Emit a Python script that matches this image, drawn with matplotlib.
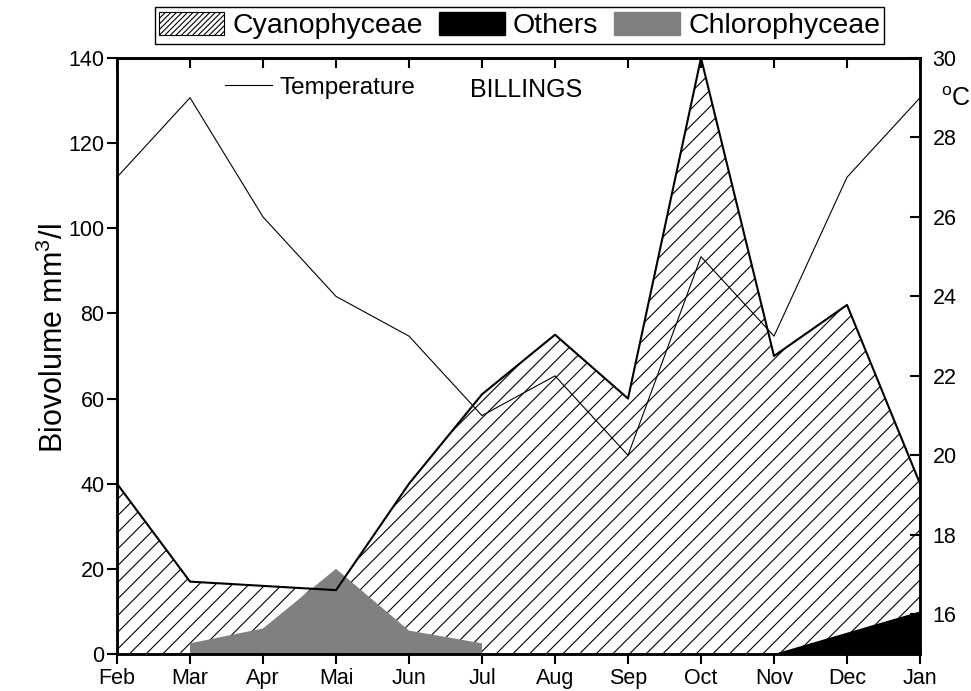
import numpy as np
import matplotlib
matplotlib.use("Agg")
import matplotlib.pyplot as plt
from matplotlib.patches import Patch

plt.rcParams['font.family'] = ['Liberation Sans', 'DejaVu Sans']
plt.rcParams['mathtext.fontset'] = 'custom'
plt.rcParams['mathtext.rm'] = 'Liberation Sans'
plt.rcParams['mathtext.it'] = 'Liberation Sans'
plt.rcParams['hatch.linewidth'] = 0.8

# Monthly data, BILLINGS reservoir
months = ["Feb", "Mar", "Apr", "Mai", "Jun", "Jul", "Aug", "Sep", "Oct", "Nov", "Dec", "Jan"]
cyanophyceae = [40, 17, 16, 15, 40, 61, 75, 60, 140, 70, 82, 40]
others = [np.nan] * 9 + [0, 5, 10]
chlorophyceae = [np.nan, 2.5, 6, 20, 5.5, 2.5] + [np.nan] * 6
temperature = [27, 29, 26, 24, 23, 21, 22, 20, 25, 23, 27, 29]

x = np.arange(len(months))
others_arr = np.array(others, dtype=float)
chloro_arr = np.array(chlorophyceae, dtype=float)

fig = plt.figure(figsize=(9.71, 6.91), dpi=100)
ax = fig.add_axes([0.1205, 0.05355, 0.827, 0.8625])

# Cyanophyceae: hatched area with a solid outline
ax.fill_between(x, 0, cyanophyceae, facecolor='none', hatch='//',
                edgecolor='black', linewidth=0)
ax.plot(x, cyanophyceae, color='black', lw=1.5)

# Others: black area
m = ~np.isnan(others_arr)
ax.fill_between(x[m], 0, others_arr[m], facecolor='black', edgecolor='none')

# Chlorophyceae: gray area
m = ~np.isnan(chloro_arr)
ax.fill_between(x[m], 0, chloro_arr[m], facecolor='#808080', edgecolor='none')

ax.set_xlim(0, len(months) - 1)
ax.set_ylim(0, 140)
ax.set_xticks(x)
ax.set_xticklabels(months)
ax.set_yticks(np.arange(0, 141, 20))
ax.tick_params(axis='both', direction='out', length=7, width=1.5, labelsize=15.5)
ax.tick_params(axis='x', pad=3)
ax.tick_params(axis='y', pad=2)
ax.set_ylabel('Biovolume mm$^3$/l', fontsize=22)
ax.yaxis.set_label_coords(-0.058, 0.53)
for s in ax.spines.values():
    s.set_linewidth(1.8)

# inward ticks along the top edge
top = ax.secondary_xaxis('top')
top.set_xticks(x)
top.set_xticklabels([])
top.tick_params(direction='in', length=7, width=1.5)
top.spines['top'].set_linewidth(1.8)

# Temperature on the right axis
ax2 = ax.twinx()
temp_line, = ax2.plot(x, temperature, color='black', lw=0.8)
ax2.set_ylim(15, 30)
ax2.set_yticks(np.arange(16, 31, 2))
ax2.tick_params(axis='y', direction='in', length=7, width=1.5, labelsize=15.5, pad=9)
for s in ax2.spines.values():
    s.set_linewidth(1.8)
ax2.text(1.026, 0.932, '$^{\\mathrm{o}}$C', transform=ax2.transAxes, fontsize=18,
         ha='left', va='center')

ax2.legend([temp_line], ['Temperature'], loc='center left',
           bbox_to_anchor=(0.1345, 0.9497), frameon=False, fontsize=17.5,
           handlelength=1.95, handletextpad=0.3, borderpad=0, borderaxespad=0)
ax2.text(0.44, 0.946, 'BILLINGS', transform=ax2.transAxes, fontsize=18,
         ha='left', va='center')

handles = [Patch(facecolor='white', edgecolor='black', hatch='//////', lw=0.8),
           Patch(facecolor='black', edgecolor='black'),
           Patch(facecolor='#808080', edgecolor='#808080')]
fig.legend(handles, ['Cyanophyceae', 'Others', 'Chlorophyceae'], ncol=3,
           loc='center', bbox_to_anchor=(0.535, 0.963), fontsize=20.5,
           frameon=True, fancybox=False, edgecolor='black', framealpha=1,
           handlelength=2.3, handleheight=0.9, handletextpad=0.3,
           columnspacing=0.55, borderpad=0.15)

fig.savefig('out.png', dpi=100)
